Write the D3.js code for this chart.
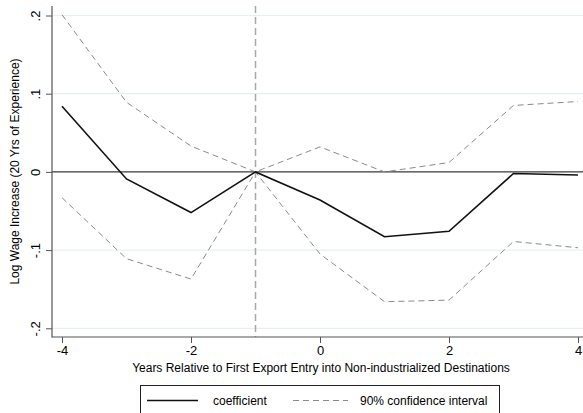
<!DOCTYPE html>
<html><head><meta charset="utf-8">
<script src="https://cdn.jsdelivr.net/npm/d3@7"></script>
<style>body{margin:0;background:#fff}svg{display:block;font-family:"Liberation Sans",Arial,sans-serif}</style>
</head><body><svg id="c" width="583" height="413"></svg>
<script>
const years = [-4,-3,-2,-1,0,1,2,3,4];
const coefficient = [0.084,-0.009,-0.052,0.000,-0.036,-0.083,-0.076,-0.002,-0.004];
const ciUpper = [0.201,0.089,0.033,0.000,0.032,0.000,0.012,0.085,0.090];
const ciLower = [-0.033,-0.111,-0.137,0.000,-0.105,-0.166,-0.164,-0.089,-0.097];
const xTicks = [-4,-2,0,2,4];
const yTicks = [0.2,0.1,0,-0.1,-0.2];
const yTickLabels = [".2",".1","0","-.1","-.2"];
const refYear = -1;

const svg = d3.select("#c");
const x = d3.scaleLinear().domain([-4,4]).range([62,578]);
const y = d3.scaleLinear().domain([-0.2,0.2]).range([328.3,15.5]);
const pLeft = 52, pRight = 583, pTop = 6, pBottom = 337;

// gridlines
svg.append("g").selectAll("line").data(yTicks.filter(d=>d!==0)).join("line")
  .attr("x1",pLeft).attr("x2",pRight).attr("y1",d=>y(d)).attr("y2",d=>y(d))
  .attr("stroke","#e6eff1").attr("stroke-width",1.2);

// zero line
svg.append("line").attr("x1",pLeft).attr("x2",pRight).attr("y1",y(0)).attr("y2",y(0))
  .attr("stroke","#3a3a3a").attr("stroke-width",1.2);

// reference vertical line
svg.append("line").attr("x1",x(refYear)).attr("x2",x(refYear)).attr("y1",pTop).attr("y2",pBottom)
  .attr("stroke","#a8a8a8").attr("stroke-width",1.5).attr("stroke-dasharray","7,4");

const line = d3.line().x((d,i)=>x(years[i])).y(d=>y(d));
[ciUpper, ciLower].forEach(s=>{
  svg.append("path").datum(s).attr("d",line).attr("fill","none")
    .attr("stroke","#8a8a8a").attr("stroke-width",1).attr("stroke-dasharray","6,4");
});
svg.append("path").datum(coefficient).attr("d",line).attr("fill","none")
  .attr("stroke","#111").attr("stroke-width",1.6);

// axes
const yAxis = svg.append("g").attr("transform",`translate(${pLeft},0)`)
  .call(d3.axisLeft(y).tickValues(yTicks).tickFormat((d,i)=>yTickLabels[i]).tickSize(6).tickSizeOuter(0));
yAxis.select(".domain").remove();
yAxis.append("line").attr("x1",0).attr("x2",0).attr("y1",pTop).attr("y2",pBottom+0.5).attr("stroke","#555").attr("stroke-width",1.2);
yAxis.selectAll(".tick line").attr("stroke","#555");
yAxis.selectAll(".tick text").attr("font-size",13).attr("fill","#000")
  .attr("x",null).attr("dy",null).attr("y",null)
  .attr("text-anchor","middle")
  .attr("transform","translate(-12,0) rotate(-90)");

const xAxis = svg.append("g").attr("transform",`translate(0,${pBottom})`)
  .call(d3.axisBottom(x).tickValues(xTicks).tickFormat(d3.format("d")).tickSize(6).tickSizeOuter(0));
xAxis.select(".domain").remove();
xAxis.append("line").attr("x1",pLeft).attr("x2",pRight).attr("y1",0).attr("y2",0).attr("stroke","#555").attr("stroke-width",1.2);
xAxis.selectAll(".tick line").attr("stroke","#555");
xAxis.selectAll(".tick text").attr("font-size",13).attr("fill","#000").attr("y",9).attr("dy","0.71em")
  .text(d=>d<0?"-"+Math.abs(d):d);

// titles
svg.append("text").attr("transform",`translate(19,${(pTop+pBottom)/2}) rotate(-90)`)
  .attr("text-anchor","middle").attr("font-size",12).text("Log Wage Increase (20 Yrs of Experience)");
svg.append("text").attr("x",321).attr("y",372).attr("text-anchor","middle").attr("font-size",12)
  .text("Years Relative to First Export Entry into Non-industrialized Destinations");

// legend
const lg = svg.append("g");
lg.append("rect").attr("x",140.5).attr("y",385.5).attr("width",359).attr("height",40)
  .attr("fill","#fff").attr("stroke","#222").attr("stroke-width",1);
lg.append("line").attr("x1",147).attr("x2",198).attr("y1",400.5).attr("y2",400.5).attr("stroke","#111").attr("stroke-width",1.6);
lg.append("text").attr("x",213).attr("y",405).attr("font-size",12).text("coefficient");
lg.append("line").attr("x1",293).attr("x2",348).attr("y1",400.5).attr("y2",400.5).attr("stroke","#8a8a8a").attr("stroke-width",1).attr("stroke-dasharray","6,4");
lg.append("text").attr("x",360).attr("y",405).attr("font-size",12).text("90% confidence interval");
</script></body></html>
